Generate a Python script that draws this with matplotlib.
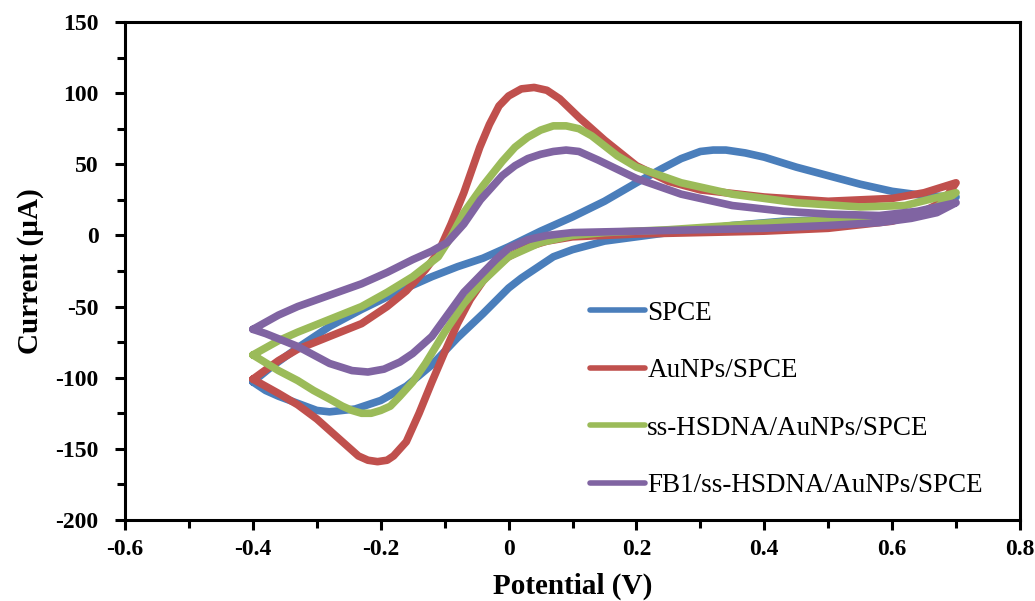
import matplotlib
matplotlib.use("Agg")
import matplotlib.pyplot as plt
from matplotlib.ticker import MultipleLocator

# cyclic voltammograms (V, uA); each list is one closed loop
spce_v = [-0.40, -0.37, -0.33, -0.28, -0.23, -0.18, -0.12, -0.08, -0.04, 0.00, 0.05, 0.10,
          0.15, 0.20, 0.24, 0.27, 0.30, 0.32, 0.34, 0.37, 0.40, 0.45, 0.50, 0.55, 0.60, 0.65, 0.70,
          0.67, 0.63, 0.58, 0.50, 0.43, 0.35, 0.30, 0.25, 0.20, 0.15, 0.10, 0.07, 0.05, 0.02, 0.00,
          -0.04, -0.08, -0.12, -0.16, -0.20, -0.22, -0.24, -0.26, -0.28, -0.30, -0.33, -0.36,
          -0.38, -0.40]
spce_i = [-103, -92, -79, -64, -52, -41, -29, -22, -16, -8, 3, 13,
          24, 37, 47, 54, 59, 60, 60, 58, 55, 48, 42, 36, 31, 28, 27,
          18, 14, 12, 11, 10, 7, 4, 2, -1, -4, -10, -15, -21, -30, -37,
          -55, -72, -91, -106, -116, -119, -122, -123, -124, -123, -118, -113,
          -109, -103]

au_v = [-0.40, -0.36, -0.33, -0.28, -0.23, -0.19, -0.16, -0.13, -0.11, -0.09, -0.07, -0.045,
        -0.03, -0.015, 0.00, 0.02, 0.04, 0.06, 0.08, 0.11, 0.15, 0.20, 0.25, 0.30, 0.40, 0.50,
        0.60, 0.65, 0.70,
        0.68, 0.65, 0.60, 0.50, 0.40, 0.30, 0.20, 0.10, 0.06, 0.03, 0.00, -0.02, -0.04, -0.06,
        -0.08, -0.10, -0.12, -0.14, -0.16, -0.18, -0.19, -0.205, -0.22, -0.235, -0.25, -0.28,
        -0.30, -0.33, -0.36, -0.40]
au_i = [-101, -88, -80, -71, -62, -50, -39, -24, -12, 8, 30, 62,
        78, 91, 98, 103, 104, 102, 96, 83, 67, 49, 38, 32, 27, 24,
        26, 30, 37,
        24, 17, 10, 5, 3, 2, 1, -1, -4, -8, -15, -22, -32, -45,
        -62, -82, -103, -125, -145, -155, -158, -159, -158, -155, -149, -137,
        -129, -119, -111, -101]

ss_v = [-0.40, -0.36, -0.33, -0.28, -0.23, -0.19, -0.15, -0.11, -0.09, -0.07, -0.04, -0.01,
        0.01, 0.03, 0.05, 0.07, 0.09, 0.11, 0.13, 0.17, 0.20, 0.27, 0.35, 0.45, 0.55, 0.62,
        0.70,
        0.67, 0.63, 0.55, 0.45, 0.35, 0.25, 0.15, 0.10, 0.05, 0.00, -0.04, -0.07, -0.10, -0.13,
        -0.15, -0.17, -0.185, -0.20, -0.215, -0.23, -0.245, -0.26, -0.28, -0.305, -0.33, -0.36,
        -0.40]
ss_i = [-84, -74, -68, -59, -50, -40, -29, -15, -1, 16, 35, 52,
        62, 69, 74, 77, 77, 75, 70, 56, 48, 37, 29, 23, 20, 21,
        30,
        20, 15, 11, 10, 7, 4, 2, 0, -5, -15, -32, -48, -68, -90,
        -103, -113, -120, -123, -125, -125, -123, -120, -115, -109, -102, -95,
        -84]

fb1_v = [-0.40, -0.36, -0.33, -0.28, -0.23, -0.19, -0.15, -0.12, -0.096, -0.07, -0.044, -0.01,
         0.01, 0.03, 0.05, 0.07, 0.09, 0.11, 0.14, 0.20, 0.27, 0.35, 0.43, 0.50, 0.58, 0.64,
         0.70,
         0.67, 0.63, 0.58, 0.50, 0.40, 0.30, 0.20, 0.10, 0.06, 0.03, 0.00, -0.02, -0.07, -0.12,
         -0.15, -0.17, -0.195, -0.22, -0.245, -0.28, -0.33, -0.38, -0.40]
fb1_i = [-66, -56, -50, -42, -34, -26, -17, -11, -5, 8, 25, 42,
         49, 54, 57, 59, 60, 59, 53, 40, 29, 21, 17, 15, 14, 17,
         23,
         16, 12, 9, 7, 5, 4, 3, 2, 0, -3, -9, -17, -40, -71,
         -83, -89, -94, -96, -95, -90, -78, -69, -66]

labels = ["SPCE", "AuNPs/SPCE", "ss-HSDNA/AuNPs/SPCE", "FB1/ss-HSDNA/AuNPs/SPCE"]
colors = ["#4A7EBB", "#C0504D", "#9BBB59", "#8064A2"]

plt.rcParams["font.family"] = ["Liberation Serif", "DejaVu Serif"]
plt.rcParams["axes.unicode_minus"] = False

fig = plt.figure(figsize=(10.35, 6.01), dpi=100)
ax = fig.add_axes([0.1208, 0.1348, 0.8647, 0.8286])

series = [(spce_v, spce_i), (au_v, au_i), (ss_v, ss_i), (fb1_v, fb1_i)]
for (v, i), lab, c in zip(series, labels, colors):
    ax.plot(v, i, color=c, lw=5.5, label=lab, solid_joinstyle="round", solid_capstyle="round")

ax.set_xlim(-0.6, 0.8)
ax.set_ylim(-200, 150)
ax.xaxis.set_major_locator(MultipleLocator(0.2))
ax.xaxis.set_minor_locator(MultipleLocator(0.1))
ax.yaxis.set_major_locator(MultipleLocator(50))
ax.yaxis.set_minor_locator(MultipleLocator(25))
ax.set_xticklabels([f"{t:g}" for t in ax.get_xticks()])

ax.tick_params(which="both", direction="out", width=2.2, top=False, right=False)
ax.tick_params(which="major", length=7)
ax.tick_params(which="minor", length=6)
ax.tick_params(axis="x", pad=7)
ax.tick_params(axis="y", pad=12)
for lab in ax.get_xticklabels() + ax.get_yticklabels():
    lab.set_fontsize(17)
    lab.set_fontweight("bold")
for s in ax.spines.values():
    s.set_linewidth(2.2)

ax.set_xlabel("Potential (V)", fontsize=21, fontweight="bold", labelpad=9)
ax.set_ylabel("Current (\u00b5A)", fontsize=21, fontweight="bold", labelpad=8)

leg = ax.legend(loc="upper left", bbox_to_anchor=(0.52, 0.44), frameon=False, borderpad=0,
                borderaxespad=0, fontsize=19.5, handlelength=2.0, handletextpad=0.1,
                labelspacing=1.2)
for h in leg.get_lines():
    h.set_linewidth(4)

fig.savefig("out.png", dpi=100)
